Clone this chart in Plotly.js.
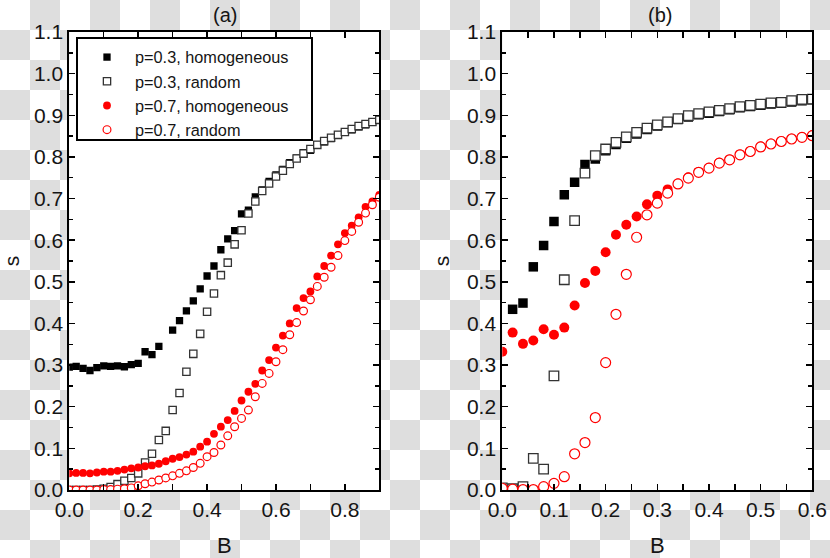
<!DOCTYPE html>
<html>
<head>
<meta charset="utf-8">
<script src="https://cdn.plot.ly/plotly-3.0.1.min.js"></script>
<style>
html,body{margin:0;padding:0;}
body{width:830px;height:558px;overflow:hidden;background-color:#fff;
background-image:conic-gradient(#dedede 25%, #ffffff 0 50%, #dedede 0 75%, #ffffff 0);
background-size:60px 60px;}
#chart{width:830px;height:558px;}
</style>
</head>
<body>
<div id="chart"></div>
<script>
// ---- data: panel (a) ----
const B_a = [0,0.02,0.04,0.06,0.08,0.10,0.12,0.14,0.16,0.18,0.20,0.22,0.24,0.26,0.28,0.30,0.32,0.34,0.36,0.38,0.40,0.42,0.44,0.46,0.48,0.50,0.52,0.54,0.56,0.58,0.60,0.62,0.64,0.66,0.68,0.70,0.72,0.74,0.76,0.78,0.80,0.82,0.84,0.86,0.88,0.90];
const hom03_a = [0.295,0.297,0.292,0.287,0.294,0.298,0.297,0.298,0.296,0.301,0.304,0.332,0.325,0.345,null,0.384,0.407,0.430,0.454,0.483,0.514,0.538,0.577,0.603,0.623,0.663,0.672,0.704,0.721,0.741,0.757,0.770,0.786,0.797,0.810,0.816,0.828,0.836,0.844,0.852,0.859,0.865,0.872,0.877,0.883,0.888];
const rand03_a = [0.0,0.0,0.0,0.0,0.001,0.003,0.007,0.014,0.022,0.029,0.040,0.066,0.087,0.120,0.142,0.192,0.233,0.284,0.327,0.375,0.428,0.472,0.516,0.546,0.590,0.624,0.664,0.693,0.718,0.736,0.753,0.767,0.783,0.796,0.808,0.819,0.829,0.838,0.846,0.853,0.860,0.867,0.874,0.879,0.884,0.889];
const hom07_a = [0.040,0.041,0.041,0.040,0.042,0.044,0.044,0.046,0.049,0.052,0.054,0.057,0.059,0.063,0.069,0.075,0.079,0.085,0.092,0.104,0.116,0.135,0.152,0.168,0.190,0.215,0.236,0.255,0.287,0.312,0.342,0.371,0.400,0.437,0.461,0.477,0.513,0.538,0.563,0.590,0.617,0.635,0.655,0.680,0.693,0.709];
const rand07_a = [0,0,0,0,0,0.001,0.001,0.002,0.003,0.005,0.010,0.015,0.019,0.024,0.029,0.034,0.040,0.046,0.054,0.064,0.080,0.090,0.108,0.130,0.152,0.172,0.192,0.224,0.256,0.280,0.308,0.337,0.373,0.402,0.430,0.457,0.489,0.511,0.535,0.563,0.599,0.621,0.643,0.665,0.685,0.703];

// ---- data: panel (b) ----
const B_b = [0,0.02,0.04,0.06,0.08,0.10,0.12,0.14,0.16,0.18,0.20,0.22,0.24,0.26,0.28,0.30,0.32,0.34,0.36,0.38,0.40,0.42,0.44,0.46,0.48,0.50,0.52,0.54,0.56,0.58,0.60];
const hom03_b = [null,0.434,0.449,0.536,0.587,0.645,0.709,0.739,0.782,0.795,0.815,0.830,0.845,0.855,0.866,0.874,0.882,0.890,0.896,0.901,0.905,0.909,0.913,0.918,0.921,0.924,0.927,0.929,0.932,0.935,0.937];
const rand03_b = [0.005,0.003,0.008,0.076,0.050,0.274,0.505,0.647,0.761,0.803,0.819,0.835,0.848,0.859,0.869,0.877,0.884,0.892,0.899,0.904,0.908,0.912,0.916,0.921,0.924,0.927,0.930,0.931,0.935,0.938,0.939];
const hom07_b = [0.332,0.378,0.351,0.359,0.386,0.373,0.390,0.443,0.497,0.526,0.571,0.613,0.637,0.657,0.686,0.707,0.722,0.736,0.751,0.764,0.774,0.786,0.794,0.806,0.814,0.825,0.832,0.838,0.844,0.848,0.852];
const rand07_b = [0.004,0.002,0.001,0.001,0.008,0.016,0.032,0.087,0.114,0.174,0.306,0.422,0.518,0.607,0.661,0.689,0.713,0.735,0.749,0.763,0.773,0.785,0.793,0.805,0.813,0.824,0.831,0.837,0.843,0.847,0.851];

const seriesNames = ['p=0.3, homogeneous','p=0.3, random','p=0.7, homogeneous','p=0.7, random'];
const panelTitles = ['(a)','(b)'];

function styles(sz){
  return [
    {symbol:'square', size:sz-0.5, color:'#000', line:{width:0}},
    {symbol:'square', size:sz-0.5, color:'#fff', line:{width:1.3, color:'#333'}},
    {symbol:'circle', size:sz, color:'#ff0000', line:{width:0}},
    {symbol:'circle', size:sz, color:'#fff', line:{width:1.2, color:'#ff0000'}}
  ];
}
const stA = styles(7.8), stB = styles(10);
const ysA = [hom03_a, rand03_a, hom07_a, rand07_a];
const ysB = [hom03_b, rand03_b, hom07_b, rand07_b];

const traces = [];
for (let i=0;i<4;i++){
  traces.push({type:'scatter', mode:'markers', x:B_a, y:ysA[i], name:seriesNames[i],
    marker:stA[i], xaxis:'x', yaxis:'y', showlegend:true});
}
for (let i=0;i<4;i++){
  traces.push({type:'scatter', mode:'markers', x:B_b, y:ysB[i], name:seriesNames[i],
    marker:stB[i], xaxis:'x2', yaxis:'y2', showlegend:false});
}

const txt = '#151515';
function xax(dom, rng, dt, mdt, anchor){
  return {domain:dom, range:rng, anchor:anchor, tick0:0, dtick:dt, tickformat:'.1f',
    ticks:'inside', ticklen:6, tickwidth:1.5, tickcolor:'#000',
    showline:true, linewidth:2, linecolor:'#000', mirror:'ticks',
    showgrid:false, zeroline:false, tickfont:{size:21, color:txt},
    minor:{dtick:mdt, ticks:'inside', ticklen:6, tickwidth:1.5, tickcolor:'#000', showgrid:false},
    title:{text:'B', font:{size:22, color:txt}, standoff:19}};
}
function yax(dom, anchor){
  return {domain:dom, range:[0,1.1], anchor:anchor, tick0:0, dtick:0.1, tickformat:'.1f',
    ticks:'inside', ticklen:6, tickwidth:1.5, tickcolor:'#000',
    showline:true, linewidth:2, linecolor:'#000', mirror:'ticks',
    showgrid:false, zeroline:false, tickfont:{size:21, color:txt},
    minor:{dtick:0.05, ticks:'inside', ticklen:4, tickwidth:1.5, tickcolor:'#000', showgrid:false},
    title:{text:'s', font:{size:21, color:txt}, standoff:12}};
}
const yDom = [68/558, 526/558];
const layout = {
  width:830, height:558,
  margin:{l:0, r:0, t:0, b:0},
  paper_bgcolor:'rgba(0,0,0,0)', plot_bgcolor:'#fff',
  font:{family:'"Liberation Sans", Arial, sans-serif', color:txt},
  xaxis: xax([69.3/830, 379.3/830], [0,0.9], 0.2, 0.1, 'y'),
  yaxis: yax(yDom, 'x'),
  xaxis2: xax([502.3/830, 812.3/830], [0,0.6], 0.1, 0.05, 'y2'),
  yaxis2: yax(yDom, 'x2'),
  showlegend:true,
  legend:{x:79/830, y:1-40/558, xanchor:'left', yanchor:'top', bgcolor:'rgba(0,0,0,0)',
    borderwidth:0, font:{size:16.3, color:txt}, itemwidth:46, tracegroupgap:0},
  shapes:[
    {type:'rect', xref:'paper', yref:'paper', x0:77/830, x1:312/830, y0:1-140/558, y1:1-38/558,
     fillcolor:'#fff', line:{color:'#000', width:2}, layer:'above'}
  ],
  annotations:[
    {text:panelTitles[0], x:225/830, y:1-15/558, xref:'paper', yref:'paper', xanchor:'center', yanchor:'middle', showarrow:false, font:{size:20, color:txt}},
    {text:panelTitles[1], x:660/830, y:1-15/558, xref:'paper', yref:'paper', xanchor:'center', yanchor:'middle', showarrow:false, font:{size:20, color:txt}}
  ]
};
Plotly.newPlot('chart', traces, layout, {displayModeBar:false, staticPlot:true});
</script>
</body>
</html>
